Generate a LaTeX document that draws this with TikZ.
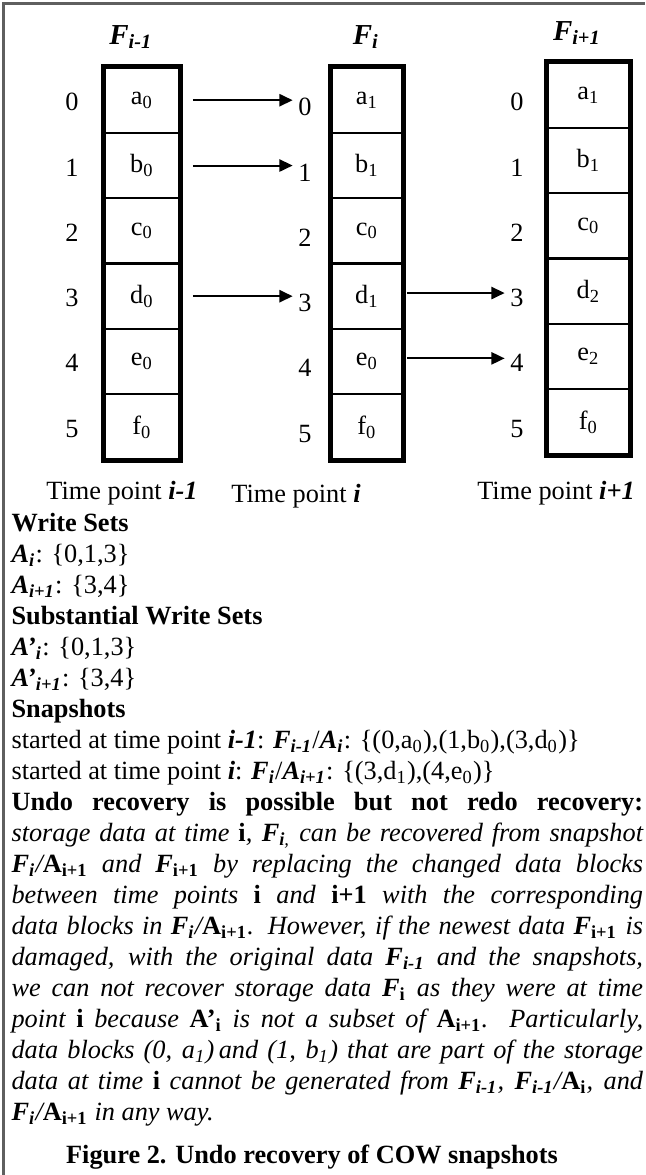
\documentclass[tikz,border=0pt]{standalone}
\usepackage{fontspec}
\setmainfont{Liberation Serif}
\usetikzlibrary{arrows.meta}
\definecolor{CWgray}{RGB}{95,95,95}
\newcommand{\bfit}[1]{\textbf{\textit{#1}}}
\newcommand{\bfup}[1]{\textbf{\upshape #1}}
\newcommand{\sbs}[1]{\textsubscript{#1}}
\tikzset{
  cell/.style={draw,line width=0.8pt,inner sep=0pt,font=\fontsize{10}{12}\selectfont,
               minimum height=24.8pt},
  colframe/.style={draw,line width=1.9pt},
  idx/.style={inner sep=2pt,font=\fontsize{10}{12}\selectfont},
  ftitle/.style={inner sep=0pt,font=\fontsize{11}{13}\selectfont\bfseries\itshape},
  tlabel/.style={inner sep=0pt,anchor=base,font=\fontsize{10}{12}\selectfont},
  cw/.style={-{Triangle[length=5pt,width=4.6pt]},line width=0.75pt},
  body/.style={inner sep=0pt,anchor=base west,text width=240pt,align=justify,
               font=\fontsize{10}{11.8}\selectfont},
  border/.style={draw=CWgray,line width=1pt}
}

\begin{document}
\begin{tikzpicture}[x=0.38pt,y=-0.38pt]
  \useasboundingbox (0,0) rectangle (645,1175);
  \draw[border] (3.5,1175) -- (3.5,3.5) -- (645,3.5);

  % column titles
  \node[ftitle] (hprev) at (131,37) {F\sbs{i-1}};
  \node[ftitle] (hcur) at (366,37) {F\sbs{i}};
  \node[ftitle] (hnext) at (577,33) {F\sbs{i+1}};

  % storage blocks at each time point
  \foreach \r/\txt in {0/a\sbs{0},1/b\sbs{0},2/c\sbs{0},3/d\sbs{0},4/e\sbs{0},5/f\sbs{0}}
    \node[cell,minimum width=28.5pt] (p\r) at (142,{100.2+65.33*\r}) {\txt};
  \foreach \r/\txt in {0/a\sbs{1},1/b\sbs{1},2/c\sbs{0},3/d\sbs{1},4/e\sbs{0},5/f\sbs{0}}
    \node[cell,minimum width=27pt] (c\r) at (367,{100.2+65.33*\r}) {\txt};
  \foreach \r/\txt in {0/a\sbs{1},1/b\sbs{1},2/c\sbs{0},3/d\sbs{2},4/e\sbs{2},5/f\sbs{0}}
    \node[cell,minimum width=31.2pt] (n\r) at (588.5,{95.2+65.33*\r}) {\txt};
  \draw[colframe] (p0.north west) rectangle (p5.south east);
  \draw[colframe] (c0.north west) rectangle (c5.south east);
  \draw[colframe] (n0.north west) rectangle (n5.south east);

  % block numbers
  \foreach \r in {0,...,5}{
    \node[idx] (pi\r) at (72,{102+65.33*\r}) {\r};
    \node[idx] (ci\r) at (305,{107+65.33*\r}) {\r};
    \node[idx] (ni\r) at (517,{102+65.33*\r}) {\r};
  }

  % copy-on-write
  \foreach \r in {0,1,3}
    \draw[cw,shorten <=4.7pt] (p\r.east) -- (p\r.east -| ci\r.west);
  \foreach \r in {3,4}
    \draw[cw,shorten <=1.3pt] ([yshift=1.2pt]c\r.east) -- ([yshift=1.2pt]c\r.east -| ni\r.west);

  \node[tlabel] (tprev) at (122,499) {Time point \bfit{i-1}};
  \node[tlabel] (tcur) at (296,502) {Time point \bfit{i}};
  \node[tlabel] (tnext) at (556,499) {Time point \bfit{i+1}};

  \node[body] (sets) at (11,531) {%
    \textbf{Write Sets}\\
    \bfit{A}\sbs{\bfit{i}}: \{0,1,3\}\\
    \bfit{A}\sbs{\bfit{i+1}}: \{3,4\}\\
    \textbf{Substantial Write Sets}\\
    \bfit{A’}\sbs{\bfit{i}}: \{0,1,3\}\\
    \bfit{A’}\sbs{\bfit{i+1}}: \{3,4\}\\
    \textbf{Snapshots}\\
    started at time point \bfit{i-1}: \bfit{F}\sbs{\bfit{i-1}}/\bfit{A}\sbs{\bfit{i}}: \{(0,a\sbs{0}),(1,b\sbs{0}),(3,d\sbs{0})\}\\
    started at time point \bfit{i}: \bfit{F}\sbs{\bfit{i}}/\bfit{A}\sbs{\bfit{i+1}}: \{(3,d\sbs{1}),(4,e\sbs{0})\}\\
    \textbf{Undo recovery is possible but not redo recovery:}\linebreak
    \itshape storage data at time \bfup{i}, \textbf{F}\sbs{\textbf{i},} can be recovered from snapshot\linebreak
    \textbf{F}\sbs{\textbf{i}}/\bfup{A}\sbs{\bfup{i+1}} and \textbf{F}\sbs{\bfup{i+1}} by replacing the changed data blocks\linebreak
    between time points \bfup{i} and \bfup{i+1} with the corresponding\linebreak
    data blocks in \textbf{F}\sbs{\textbf{i}}/\bfup{A}\sbs{\bfup{i+1}}. However, if the newest data \textbf{F}\sbs{\bfup{i+1}} is\linebreak
    damaged, with the original data \textbf{F}\sbs{\textbf{i-1}} and the snapshots,\linebreak
    we can not recover storage data \textbf{F}\sbs{\bfup{i}} as they were at time\linebreak
    point \bfup{i} because \bfup{A’}\sbs{\bfup{i}} is not a subset of \bfup{A}\sbs{\bfup{i+1}}. Particularly,\linebreak
    data blocks (0, a\sbs{1})\,and (1, b\sbs{1}) that are part of the storage\linebreak
    data at time \bfup{i} cannot be generated from \textbf{F}\sbs{\textbf{i-1}}, \textbf{F}\sbs{\textbf{i-1}}/\bfup{A}\sbs{\bfup{i}}, and\linebreak
    \textbf{F}\sbs{\textbf{i}}/\bfup{A}\sbs{\bfup{i+1}} in any way.\par};

  \node[tlabel,font=\fontsize{10}{12}\selectfont\bfseries] (cap) at (312,1163) {Figure 2. Undo recovery of COW snapshots};
\end{tikzpicture}
\end{document}
